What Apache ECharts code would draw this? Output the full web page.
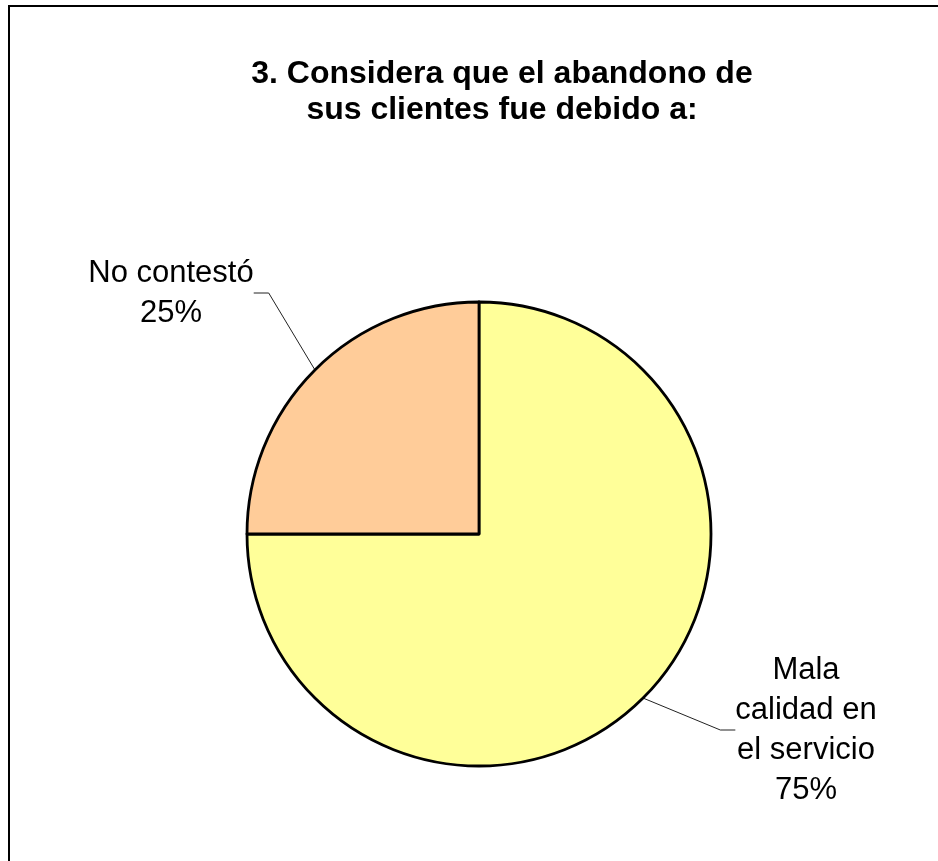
<!DOCTYPE html>
<html>
<head>
<meta charset="utf-8">
<script src="https://cdn.jsdelivr.net/npm/echarts@6/dist/echarts.min.js"></script>
<style>
  html, body { margin: 0; padding: 0; background: #fff; }
  #chart { width: 938px; height: 861px; }
</style>
</head>
<body>
<div id="chart"></div>
<script>
const titleText = '3. Considera que el abandono de\nsus clientes fue debido a:';
const categories = ['Mala\ncalidad en\nel servicio', 'No contestó'];
const values = [75, 25];
const sliceColors = ['#FFFF99', '#FFCC99'];
const labelPositions = [[806, 730], [171, 293]];

const chart = echarts.init(document.getElementById('chart'), null, { renderer: 'canvas' });
const FONT = 'Liberation Sans, Arial, sans-serif';

chart.setOption({
  backgroundColor: '#ffffff',
  animation: false,
  title: {
    text: titleText,
    left: 502,
    top: 56,
    padding: 0,
    textAlign: 'center',
    textStyle: {
      fontFamily: FONT,
      fontSize: 32,
      fontWeight: 'bold',
      color: '#000',
      lineHeight: 36
    }
  },
  graphic: [{
    type: 'rect',
    shape: { x: 9, y: 6, width: 1000, height: 1000 },
    style: { fill: 'none', stroke: '#000', lineWidth: 2 },
    silent: true,
    z: 100
  }],
  series: [{
    type: 'pie',
    center: [479, 534],
    radius: 232,
    startAngle: 90,
    clockwise: true,
    data: categories.map((c, i) => ({ name: c, value: values[i], itemStyle: { color: sliceColors[i] } })),
    itemStyle: { borderColor: '#000', borderWidth: 2.8 },
    label: {
      show: true,
      position: 'outside',
      fontFamily: FONT,
      fontSize: 31,
      color: '#000',
      lineHeight: 40,
      formatter: p => p.name + '\n' + Math.round(p.percent) + '%'
    },
    labelLine: {
      show: true,
      length: 20,
      length2: 15,
      lineStyle: { color: '#222', width: 1 }
    },
    labelLayout: function (params) {
      const pos = labelPositions[params.dataIndex];
      return { x: pos[0], y: pos[1], align: 'center', verticalAlign: 'middle' };
    },
    emphasis: { disabled: true }
  }]
});
</script>
</body>
</html>
